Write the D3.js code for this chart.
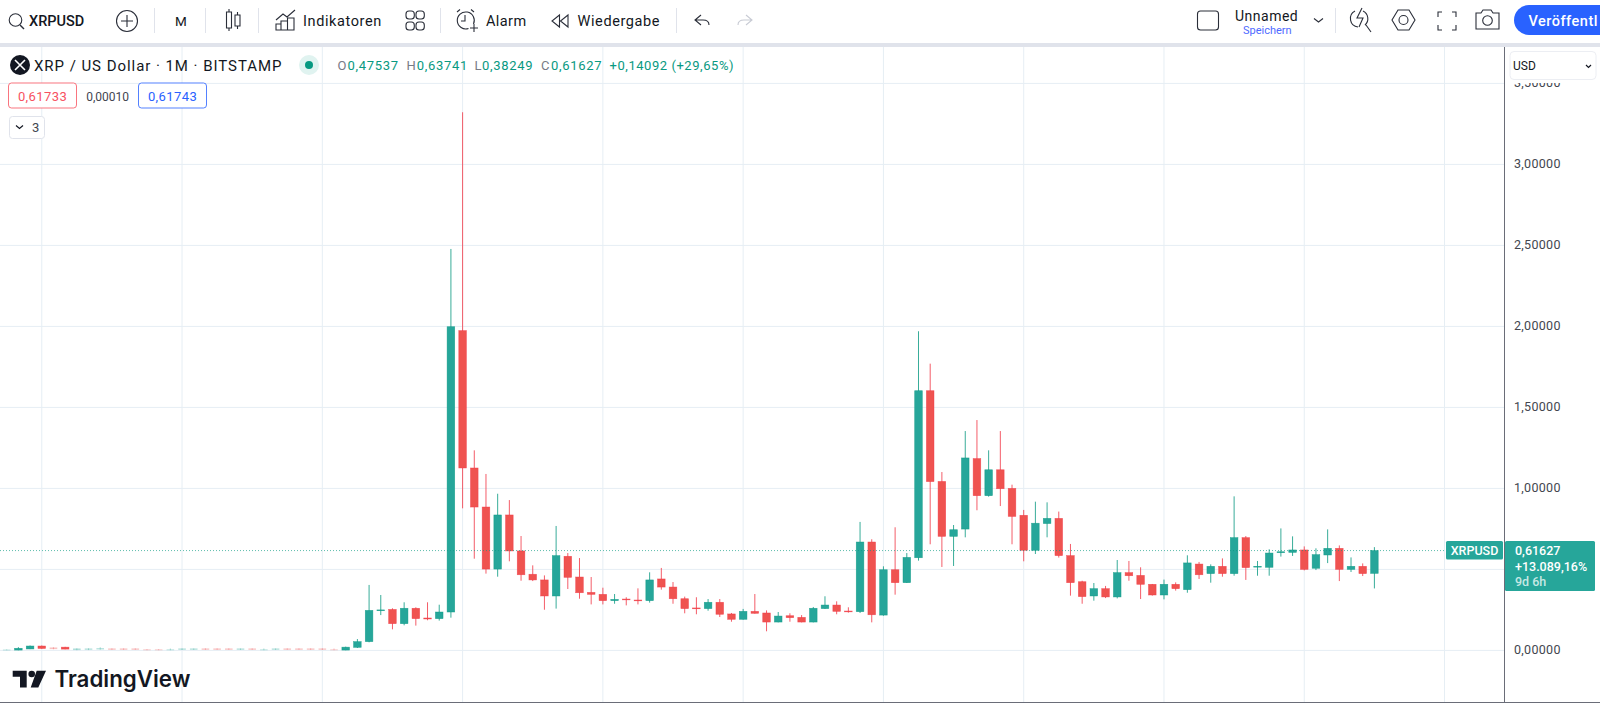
<!DOCTYPE html>
<html><head><meta charset="utf-8">
<script src="https://cdn.jsdelivr.net/npm/d3@7"></script>
<style>html,body{margin:0;padding:0;background:#fff;overflow:hidden}svg{display:block}text{font-family:Roboto,"Noto Sans",sans-serif}</style>
</head><body><svg id="c" width="1600" height="704"></svg>
<script>
const opens =[.003,.002,.009,.027,.018,.02,.002,.004,.006,.012,.012,.012,.006,.006,.001,.004,.004,.012,.012,.012,.004,.012,.001,.004,.012,.012,.012,.012,.006,.002,.019,.054,.245,.253,.165,.26,.2,.196,.237,1.974,1.126,.885,.502,.836,.614,.47,.435,.336,.581,.453,.358,.346,.307,.317,.311,.307,.441,.391,.319,.262,.258,.297,.225,.192,.241,.231,.175,.214,.204,.175,.258,.28,.243,.239,.669,.218,.498,.418,.572,1.603,1.043,.704,.749,1.184,.955,1.115,1.0,.834,.618,.783,.815,.585,.424,.336,.381,.33,.48,.463,.408,.342,.408,.375,.533,.474,.519,.474,.696,.515,.513,.603,.605,.62,.507,.589,.63,.5,.519,.47537];
const highs =[.006,.02,.03,.03,.02,.022,.013,.013,.02,.013,.013,.013,.008,.008,.012,.012,.012,.013,.013,.013,.012,.013,.012,.012,.013,.013,.013,.013,.012,.023,.07,.404,.342,.26,.297,.266,.297,.282,2.478,3.322,1.235,1.089,.967,.928,.706,.525,.463,.768,.601,.57,.453,.387,.348,.328,.383,.482,.509,.422,.332,.328,.317,.317,.231,.256,.348,.247,.237,.229,.218,.268,.334,.303,.266,.793,.686,.519,.76,.601,1.97,1.77,1.101,.774,1.354,1.422,1.235,1.354,1.023,.867,.918,.914,.857,.657,.43,.416,.398,.558,.552,.513,.41,.437,.42,.587,.546,.531,.568,.951,.706,.552,.624,.753,.704,.642,.63,.747,.648,.574,.537,.63741];
const lows  =[.001,.001,.008,.01,.007,.007,.001,.002,.004,.003,.003,.003,.001,.001,.001,.003,.003,.003,.003,.003,.003,.003,.001,.003,.003,.003,.003,.003,.001,.001,.015,.05,.218,.13,.155,.153,.186,.184,.202,.877,.566,.474,.455,.55,.43,.428,.251,.258,.379,.319,.284,.284,.288,.278,.284,.295,.375,.288,.229,.223,.245,.206,.177,.19,.227,.118,.173,.177,.173,.173,.256,.223,.233,.231,.173,.214,.344,.416,.554,.655,.515,.521,.698,.865,.949,.891,.655,.55,.595,.698,.573,.338,.288,.307,.323,.321,.43,.317,.338,.315,.369,.356,.441,.418,.455,.461,.435,.461,.461,.579,.583,.494,.496,.539,.428,.484,.459,.38249];
const closes=[.005,.013,.027,.012,.008,.008,.012,.012,.014,.004,.004,.004,.001,.001,.006,.012,.012,.004,.004,.004,.012,.004,.006,.012,.004,.004,.004,.004,.001,.02,.054,.247,.25,.165,.26,.196,.194,.237,1.998,1.126,.885,.502,.836,.614,.467,.435,.336,.585,.451,.356,.346,.307,.315,.313,.307,.435,.391,.319,.258,.258,.297,.223,.192,.241,.229,.175,.212,.202,.175,.26,.28,.241,.239,.669,.22,.498,.418,.574,1.603,1.042,.704,.745,1.188,.955,1.115,.998,.827,.618,.785,.815,.585,.418,.332,.381,.33,.48,.461,.408,.342,.408,.381,.54,.467,.519,.474,.696,.511,.519,.601,.609,.62,.5,.591,.63,.5,.519,.474,.61627];
const yearCandles=[3,15,27,39,51,63,75,87,99,111,123];
const priceTicks=[0,.5,1,1.5,2,2.5,3,3.5];
const tickLabels=["0,00000","0,50000","1,00000","1,50000","2,00000","2,50000","3,00000","3,50000"];

const svg=d3.select("#c");
const x=d3.scaleLinear().domain([0,117]).range([6.7,1374.4]);
const y=d3.scaleLinear().domain([0,3.5]).range([650.4,83.4]);
const UP="#26a69a",UPB="#089981",DN="#ef5350",DNB="#f23645",GRID="#e6eef4",TXT="#131722";
const bodyW=7.6;

const grid=svg.append("g");
grid.selectAll("line.h").data(priceTicks).join("line").attr("x1",0).attr("x2",1504).attr("y1",d=>y(d)).attr("y2",d=>y(d)).attr("stroke",GRID);
grid.selectAll("line.v").data(yearCandles).join("line").attr("x1",d=>x(d)).attr("x2",d=>x(d)).attr("y1",47).attr("y2",702).attr("stroke",GRID);

const idx=d3.range(opens.length);
const isUp=i=>closes[i]>=opens[i];
const faint=i=>highs[i]<.03&&Math.abs(opens[i]-closes[i])<.011;
svg.append("g").selectAll("line").data(idx).join("line")
 .attr("x1",i=>x(i)).attr("x2",i=>x(i)).attr("y1",i=>y(highs[i])).attr("y2",i=>y(lows[i]))
 .attr("stroke",i=>isUp(i)?UPB:DNB).attr("stroke-width",1).attr("opacity",i=>faint(i)?.3:.8);
svg.append("g").selectAll("rect").data(idx).join("rect")
 .attr("x",i=>x(i)-bodyW/2).attr("width",bodyW)
 .attr("y",i=>y(Math.max(opens[i],closes[i])))
 .attr("height",i=>Math.max(.8,Math.abs(y(opens[i])-y(closes[i]))))
 .attr("fill",i=>isUp(i)?UP:DN).attr("fill-opacity",i=>faint(i)?.35:1)
 .attr("stroke",i=>isUp(i)?UPB:DNB).attr("stroke-width",i=>faint(i)?0:.6).attr("stroke-opacity",.7);

const last=closes[closes.length-1];
svg.append("line").attr("x1",0).attr("x2",1446).attr("y1",y(last)).attr("y2",y(last)).attr("stroke",UPB).attr("stroke-opacity",.65).attr("stroke-dasharray","1 2");

// axis panel: a label under the last-price tag is hidden in the reference
const axis=svg.append("g");
const shown=priceTicks.map((d,i)=>({d,t:tickLabels[i]})).filter(o=>Math.abs(y(o.d)-y(last))>30);
axis.selectAll("text").data(shown).join("text").attr("x",1514).attr("y",o=>y(o.d)+4).attr("font-size",12.5).attr("fill","#43464f").attr("letter-spacing",.3).text(o=>o.t);
svg.append("rect").attr("x",1506).attr("y",47).attr("width",94).attr("height",36).attr("fill","#fff");
svg.append("line").attr("x1",1504.5).attr("x2",1504.5).attr("y1",47).attr("y2",702).attr("stroke","#6a6d78");
svg.append("line").attr("x1",0).attr("x2",1600).attr("y1",702.5).attr("y2",702.5).attr("stroke","#6a6d78");

// price tags
svg.append("rect").attr("x",1446).attr("y",541).attr("width",57).attr("height",18.5).attr("rx",1.5).attr("fill",UP);
svg.append("text").attr("x",1474.5).attr("y",555).attr("text-anchor","middle").attr("font-size",12.5).attr("font-weight",500).attr("fill","#fff").text("XRPUSD");
svg.append("rect").attr("x",1505).attr("y",541).attr("width",90).attr("height",50).attr("rx",1.5).attr("fill",UP);
[["0,61627",555,"#fff"],["+13.089,16%",571,"#fff"],["9d 6h",586,"#c5e8e4"]].forEach(t=>svg.append("text").attr("x",1515).attr("y",t[1]).attr("font-size",12.5).attr("font-weight",500).attr("fill",t[2]).text(t[0]));

// USD selector
svg.append("rect").attr("x",1510).attr("y",51.5).attr("width",86).attr("height",28).attr("rx",4).attr("fill","#fff").attr("stroke","#eceef3");
svg.append("text").attr("x",1513).attr("y",70).attr("font-size",12).attr("fill",TXT).text("USD");
svg.append("path").attr("d","M1586 65l2.5 2.5 2.5-2.5").attr("fill","none").attr("stroke",TXT).attr("stroke-width",1.2);

// toolbar
svg.append("rect").attr("x",0).attr("y",43).attr("width",1600).attr("height",4).attr("fill","#e0e3eb");
const ink="#2a2e39";
const ic=svg.append("g").attr("fill","none").attr("stroke",ink).attr("stroke-width",1.1);
ic.append("circle").attr("cx",15.5).attr("cy",20).attr("r",6.3);
ic.append("path").attr("d","M20 25l4 4").attr("stroke-width",1.5);
ic.append("circle").attr("cx",127).attr("cy",21).attr("r",10.5);
ic.append("path").attr("d","M127 15v12M121 21h12");
ic.append("path").attr("d","M229 9v3M229 28v3M226.5 12h5v16h-5zM237.5 12v3M237.5 26v3M235 15h5v11h-5z");
ic.append("path").attr("d","M276 30h5v-6h-5zM281 30h6.5v-9h-6.5zM287.5 30h6.5v-12h-6.5zM276 20l7-6 4 3 8-7");
ic.selectAll("rect.q").data([[406,11],[416,11],[406,22],[416,22]]).join("rect").attr("x",d=>d[0]).attr("y",d=>d[1]).attr("width",8.3).attr("height",8).attr("rx",3);
ic.append("path").attr("d","M473.5 24a8.5 8.5 0 1 0-5 4.5M465 15v6h-4M457 12l3-2.5M474 12l-3-2.5M474 24v8M470 28h8");
ic.append("path").attr("d","M559.5 15l-7.5 6 7.5 6zM568 15l-7.5 6 7.5 6z");
ic.append("path").attr("d","M701 15l-6 5 6 5M695 20h8c4 0 6 2 6 5");
ic.append("path").attr("d","M746 15l6 5-6 5M752 20h-8c-4 0-6 2-6 5").attr("stroke","#c8cbd4");
ic.append("rect").attr("x",1197.5).attr("y",11).attr("width",21).attr("height",19).attr("rx",3);
ic.append("path").attr("d","M1314 18.5l4.5 3.5 4.5-3.5");
ic.append("path").attr("d","M1355 11a8.5 8.5 0 0 0 3 16M1363 11a8.5 8.5 0 0 1 2 14M1366 25l5 7M1362 8l-5 10h6l-4 9");
ic.append("path").attr("d","M1398 10h11l6 10-6 10h-11l-6-10z");
ic.append("circle").attr("cx",1403.5).attr("cy",20).attr("r",4.5);
ic.append("path").attr("d","M1438 17v-5h4M1452 12h4v5M1456 25v5h-4M1442 30h-4v-5");
ic.append("path").attr("d","M1476 13h5l2-3h8l2 3h6v16h-23z");
ic.append("circle").attr("cx",1487.5).attr("cy",20.5).attr("r",4.8);
svg.selectAll("line.sep").data([154,205,258,440,676,1335]).join("line").attr("x1",d=>d+.5).attr("x2",d=>d+.5).attr("y1",8).attr("y2",33).attr("stroke","#e0e3eb");
const tb=[["XRPUSD",29,26,14.5,500,TXT,0],["M",175,26,13.5,400,TXT,0],["Indikatoren",303,26,14.5,400,TXT,.6],["Alarm",486,26,14.5,400,TXT,.4],["Wiedergabe",577.5,26,14.5,400,TXT,.6],["Unnamed",1235,21,14,400,TXT,.5],["Speichern",1243,33.5,11,400,"#4f6bff",0]];
tb.forEach(t=>svg.append("text").attr("x",t[1]).attr("y",t[2]).attr("font-size",t[3]).attr("font-weight",t[4]).attr("fill",t[5]).attr("letter-spacing",t[6]).text(t[0]));
svg.append("rect").attr("x",1514).attr("y",5).attr("width",110).attr("height",30).attr("rx",15).attr("fill","#2962ff");
svg.append("text").attr("x",1528.5).attr("y",25.5).attr("font-size",14.5).attr("font-weight",500).attr("fill","#fff").attr("letter-spacing",.5).text("Veröffentl");

// legend
svg.append("circle").attr("cx",20).attr("cy",65).attr("r",10).attr("fill","#131722");
svg.append("path").attr("d","M15 60l10 10M25 60l-10 10").attr("stroke","#fff").attr("stroke-width",1.6);
svg.append("text").attr("x",34).attr("y",70.5).attr("font-size",15).attr("fill",TXT).attr("letter-spacing",.95).text("XRP / US Dollar · 1M · BITSTAMP");
svg.append("circle").attr("cx",309).attr("cy",65).attr("r",10).attr("fill","#e0f3f0");
svg.append("circle").attr("cx",309).attr("cy",65).attr("r",4).attr("fill",UPB);
const ohlc=[["O",337.5,347.4],["H",406.5,416.8],["L",474.5,482],["C",541,551]];
const vals=["0,47537","0,63741","0,38249","0,61627"];
ohlc.forEach((o,i)=>{svg.append("text").attr("x",o[1]).attr("y",70).attr("font-size",13).attr("fill","#787b86").text(o[0]);
 svg.append("text").attr("x",o[2]).attr("y",70).attr("font-size",13).attr("fill",UPB).attr("letter-spacing",.7).text(vals[i]);});
svg.append("text").attr("x",609.5).attr("y",70).attr("font-size",13).attr("fill",UPB).attr("letter-spacing",.55).text("+0,14092 (+29,65%)");
[[8.5,68,"#f7525f","0,61733"],[138.5,68,"#2962ff","0,61743"]].forEach(b=>{
 svg.append("rect").attr("x",b[0]).attr("y",83).attr("width",b[1]).attr("height",25).attr("rx",3).attr("fill","#fff").attr("stroke",b[2]).attr("stroke-opacity",.8);
 svg.append("text").attr("x",b[0]+b[1]/2).attr("y",100.5).attr("text-anchor","middle").attr("font-size",13).attr("letter-spacing",.4).attr("fill",b[2]).text(b[3]);});
svg.append("text").attr("x",107.6).attr("y",100.5).attr("text-anchor","middle").attr("font-size",12).attr("fill","#434651").text("0,00010");
svg.append("rect").attr("x",9.5).attr("y",116.5).attr("width",35).attr("height",22).attr("rx",3).attr("fill","#fff").attr("stroke","#e0e3eb");
svg.append("path").attr("d","M16 125.5l3.5 3 3.5-3").attr("fill","none").attr("stroke",TXT).attr("stroke-width",1.2);
svg.append("text").attr("x",32).attr("y",132).attr("font-size",13).attr("fill","#434651").text("3");

// logo
svg.append("path").attr("fill","#131722").attr("d","M12.7 670.7h14v16.7h-6.7v-10.7h-7.3zM36.7 670.7h9.3l-7.7 16.7h-7.6z");
svg.append("circle").attr("cx",31.7).attr("cy",674).attr("r",3.3).attr("fill","#131722");
svg.append("text").attr("x",54.5).attr("y",687).attr("font-size",22.3).attr("font-weight",600).attr("fill","#131722").style("font-family","Inter").text("TradingView");
</script></body></html>
